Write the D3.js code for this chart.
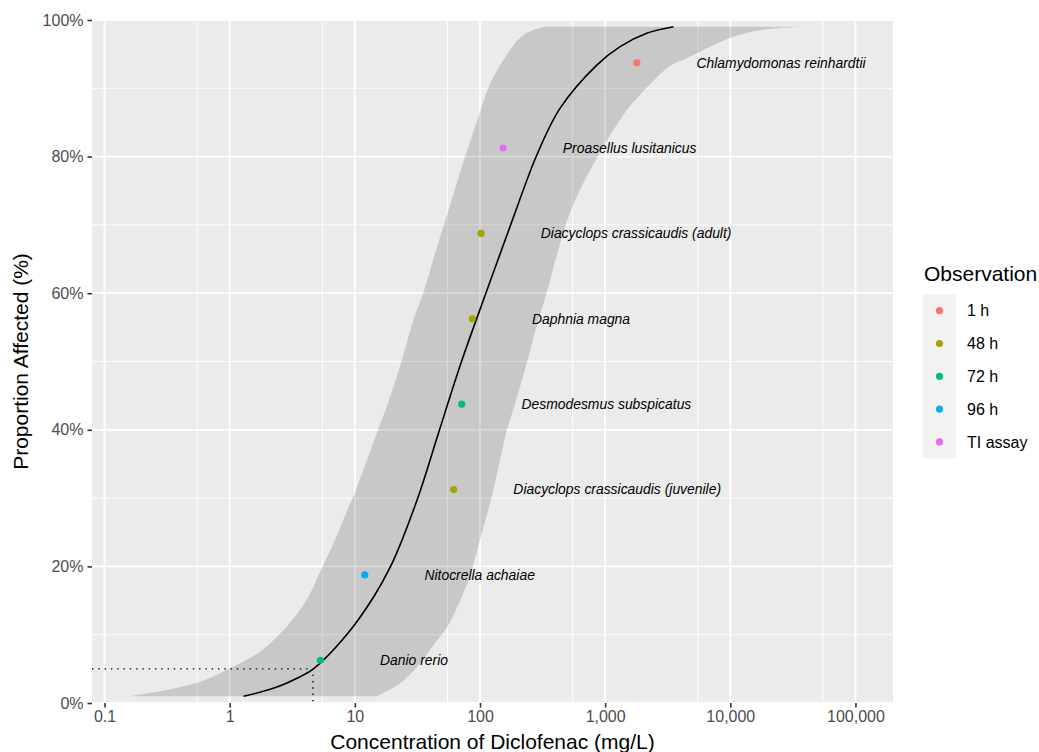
<!DOCTYPE html>
<html>
<head>
<meta charset="utf-8">
<script src="https://cdn.jsdelivr.net/npm/d3@7"></script>
<style>
    body { margin: 0; background: #fff; }
    svg { display: block; font-family: "Liberation Sans", Arial, sans-serif; }
</style>
</head>
<body>
<div id="chart"></div>
<script>
// species points (Hazen plotting positions)
const species = [
    'Danio rerio', 'Nitocrella achaiae', 'Diacyclops crassicaudis (juvenile)',
    'Desmodesmus subspicatus', 'Daphnia magna', 'Diacyclops crassicaudis (adult)',
    'Proasellus lusitanicus', 'Chlamydomonas reinhardtii'
];
const concentrations = [5.3, 12.0, 61.6, 71.5, 86.8, 102, 153, 1791];
const proportions = [0.0625, 0.1875, 0.3125, 0.4375, 0.5625, 0.6875, 0.8125, 0.9375];
const observations = ['72 h', '96 h', '48 h', '72 h', '48 h', '48 h', 'TI assay', '1 h'];

const obsLevels = ['1 h', '48 h', '72 h', '96 h', 'TI assay'];
const obsColors = ['#F8766D', '#A3A500', '#00BF7D', '#00B0F6', '#E76BF3'];

// fitted curve, [proportion, concentration]
const fitted = [
    [0.01, 1.29], [0.0215, 2.23], [0.0385, 3.65], [0.05, 4.67], [0.101, 8.7],
    [0.156, 14.2], [0.200, 19.3], [0.240, 24.0], [0.312, 33.5], [0.400, 47.5],
    [0.501, 71.5], [0.601, 112], [0.710, 184], [0.802, 284], [0.871, 437],
    [0.934, 858], [0.961, 1317], [0.9805, 2151], [0.99, 3512]
];

// confidence band, lower and upper bound, [proportion, concentration]
const bandLower = [
    [0.01, 0.160], [0.019, 0.314], [0.031, 0.580], [0.051, 1.007], [0.075, 1.75],
    [0.112, 2.86], [0.151, 4.13], [0.195, 5.37], [0.234, 6.76], [0.278, 8.51],
    [0.312, 10.2], [0.401, 15.4], [0.434, 18.0], [0.501, 23.7], [0.561, 29.4],
    [0.601, 35.3], [0.656, 43.4], [0.729, 57.7], [0.7925, 73.7], [0.851, 94.3],
    [0.906, 120], [0.949, 164], [0.978, 222], [0.99, 321]
];
const bandUpper = [
    [0.01, 15.0], [0.029, 23.0], [0.058, 33.2], [0.091, 45.2], [0.112, 55.0],
    [0.146, 68.0], [0.183, 82.0], [0.239, 100], [0.312, 128], [0.401, 165],
    [0.434, 188], [0.501, 239], [0.561, 293], [0.601, 342], [0.656, 411],
    [0.705, 494], [0.749, 620], [0.7975, 858], [0.839, 1164], [0.874, 1583],
    [0.909, 2372], [0.933, 3304], [0.944, 4493], [0.961, 6896], [0.9755, 10590],
    [0.985, 17290], [0.99, 37250]
];

// hazard concentration (5%)
const hcProportion = 0.05;
const hcConcentration = 4.63;

const xTicks = [0.1, 1, 10, 100, 1000, 10000, 100000];
const xMinor = [0.55, 5.5, 55, 550, 5500, 55000];
const yTicks = [0, 0.2, 0.4, 0.6, 0.8, 1];
const yMinor = [0.1, 0.3, 0.5, 0.7, 0.9];
const labelNudge = 3;

const width = 1039, height = 752;
const panel = { left: 92, right: 893, top: 20, bottom: 703 };

const svg = d3.select('#chart').append('svg')
    .attr('width', width)
    .attr('height', height);

const x = d3.scaleLog()
    .domain([Math.pow(10, -1.1), Math.pow(10, 5.3)])
    .range([panel.left, panel.right]);

const y = d3.scaleLinear()
    .domain([0, 1])
    .range([panel.bottom, panel.top]);

const color = d3.scaleOrdinal().domain(obsLevels).range(obsColors);

// panel background
svg.append('rect')
    .attr('x', panel.left)
    .attr('y', panel.top)
    .attr('width', panel.right - panel.left)
    .attr('height', panel.bottom - panel.top)
    .attr('fill', '#EBEBEB');

// grid lines
const grid = svg.append('g');
grid.selectAll('.xminor').data(xMinor).enter().append('line')
    .attr('x1', d => x(d)).attr('x2', d => x(d))
    .attr('y1', panel.top).attr('y2', panel.bottom)
    .attr('stroke', '#fff').attr('stroke-width', 0.9);
grid.selectAll('.yminor').data(yMinor).enter().append('line')
    .attr('y1', d => y(d)).attr('y2', d => y(d))
    .attr('x1', panel.left).attr('x2', panel.right)
    .attr('stroke', '#fff').attr('stroke-width', 0.9);
grid.selectAll('.xmajor').data(xTicks).enter().append('line')
    .attr('x1', d => x(d)).attr('x2', d => x(d))
    .attr('y1', panel.top).attr('y2', panel.bottom)
    .attr('stroke', '#fff').attr('stroke-width', 1.8);
grid.selectAll('.ymajor').data(yTicks).enter().append('line')
    .attr('y1', d => y(d)).attr('y2', d => y(d))
    .attr('x1', panel.left).attr('x2', panel.right)
    .attr('stroke', '#fff').attr('stroke-width', 1.8);

// smooth line through [proportion, concentration] pairs
const smooth = d3.line()
    .x(d => x(d[1]))
    .y(d => y(d[0]))
    .curve(d3.curveCatmullRom.alpha(0.5));

// confidence band: lower side going up, upper side coming down
const lowerPath = smooth(bandLower);
const upperPath = smooth(bandUpper.slice().reverse()).replace(/^M/, 'L');
svg.append('path')
    .attr('d', lowerPath + upperPath + 'Z')
    .attr('fill', '#000')
    .attr('fill-opacity', 0.15);

// fitted curve
svg.append('path')
    .datum(fitted)
    .attr('d', smooth)
    .attr('fill', 'none')
    .attr('stroke', '#000')
    .attr('stroke-width', 1.6);

// HC5 dotted guide
svg.append('path')
    .attr('d', `M${panel.left},${y(hcProportion)}H${x(hcConcentration)}V${panel.bottom}`)
    .attr('fill', 'none')
    .attr('stroke', '#000')
    .attr('stroke-width', 1.4)
    .attr('stroke-dasharray', '1.4,4.9');

const pts = species.map((s, i) => ({
    name: s, conc: concentrations[i], prop: proportions[i], obs: observations[i]
}));

// points
svg.selectAll('.pt').data(pts).enter().append('circle')
    .attr('cx', d => x(d.conc))
    .attr('cy', d => y(d.prop))
    .attr('r', 3.6)
    .attr('fill', d => color(d.obs));

// species labels
svg.selectAll('.lbl').data(pts).enter().append('text')
    .attr('x', d => x(d.conc * labelNudge))
    .attr('y', d => y(d.prop))
    .attr('dy', '0.35em')
    .attr('font-size', '13.9px')
    .attr('font-style', 'italic')
    .attr('fill', '#000')
    .text(d => d.name);

// x axis
const xAxis = svg.append('g')
    .attr('transform', `translate(0,${panel.bottom})`)
    .call(d3.axisBottom(x).tickValues(xTicks).tickFormat(d3.format(',')).tickSize(4.5).tickPadding(3));
xAxis.select('.domain').remove();
xAxis.selectAll('line').attr('stroke', '#333').attr('stroke-width', 1.6);
xAxis.selectAll('text').attr('fill', '#4D4D4D').attr('font-size', '16px')
    .style('font-family', '"Liberation Sans", Arial, sans-serif');

// y axis
const yAxis = svg.append('g')
    .attr('transform', `translate(${panel.left},0)`)
    .call(d3.axisLeft(y).tickValues(yTicks).tickFormat(d3.format('.0%')).tickSize(4.5).tickPadding(4));
yAxis.select('.domain').remove();
yAxis.selectAll('line').attr('stroke', '#333').attr('stroke-width', 1.6);
yAxis.selectAll('text').attr('fill', '#4D4D4D').attr('font-size', '16px')
    .style('font-family', '"Liberation Sans", Arial, sans-serif');

// axis titles
svg.append('text')
    .attr('x', (panel.left + panel.right) / 2)
    .attr('y', 749)
    .attr('text-anchor', 'middle')
    .attr('font-size', '21px')
    .text('Concentration of Diclofenac (mg/L)');

svg.append('text')
    .attr('transform', `translate(28,${(panel.top + panel.bottom) / 2}) rotate(-90)`)
    .attr('text-anchor', 'middle')
    .attr('font-size', '21px')
    .text('Proportion Affected (%)');

// legend
const legend = svg.append('g').attr('transform', 'translate(923,0)');
legend.append('text')
    .attr('x', 1)
    .attr('y', 281)
    .attr('font-size', '21px')
    .text('Observation');

const keyH = 32.8, keyTop = 294.3;
legend.append('rect')
    .attr('x', 0).attr('y', keyTop)
    .attr('width', 33).attr('height', keyH * obsLevels.length)
    .attr('fill', '#F2F2F2');

obsLevels.forEach((lv, i) => {
    const cy = keyTop + keyH * (i + 0.5);
    legend.append('circle')
        .attr('cx', 16.5).attr('cy', cy).attr('r', 3.6)
        .attr('fill', color(lv));
    legend.append('text')
        .attr('x', 44).attr('y', cy)
        .attr('dy', '0.35em')
        .attr('font-size', '16px')
        .text(lv);
});
</script>
</body>
</html>
